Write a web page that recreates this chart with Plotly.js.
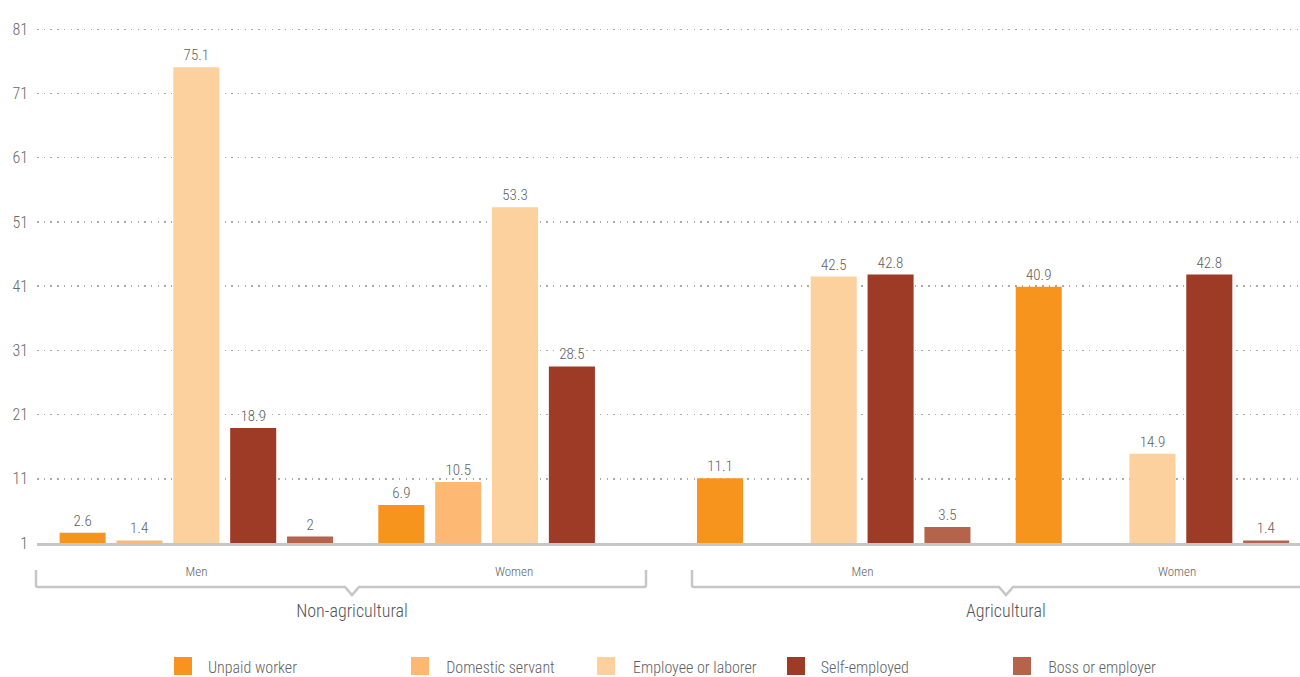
<!DOCTYPE html>
<html>
<head>
<meta charset="utf-8">
<script src="https://cdn.plot.ly/plotly-3.0.1.min.js"></script>
<style>
html,body{margin:0;padding:0;background:#fff;}
#chart{width:1300px;height:677px;}
#chart svg text{font-stretch:75% !important;}
</style>
</head>
<body>
<div id="chart"></div>
<script>
// ---- data ----
var sectors = ["Non-agricultural", "Non-agricultural", "Agricultural", "Agricultural"];
var sexes = ["Men", "Women", "Men", "Women"];
var seriesNames = ["Unpaid worker", "Domestic servant", "Employee or laborer", "Self-employed", "Boss or employer"];
var unpaidWorker = [2.6, 6.9, 11.1, 40.9];
var domesticServant = [1.4, 10.5, null, null];
var employeeLaborer = [75.1, 53.3, 42.5, 14.9];
var selfEmployed = [18.9, 28.5, 42.8, 42.8];
var bossEmployer = [2, null, 3.5, 1.4];
var yTicks = [1, 11, 21, 31, 41, 51, 61, 71, 81];
var colors = ["#F7941E", "#FDB974", "#FDD19E", "#9E3B26", "#B5634B"];

var FONT = "Roboto, sans-serif";
var WEIGHT = 300;

// ---- geometry helpers (pixel -> paper) ----
var W = 1300, H = 677, ML = 37, MR = 0, MT = 28, MB = 134;
var PW = W - ML - MR, PH = H - MT - MB;
function px(x){ return (x - ML) / PW; }
function py(y){ return (H - MB - y) / PH; }

var xIdx = sexes.map(function(_, i){ return i; });
var seriesValues = [unpaidWorker, domesticServant, employeeLaborer, selfEmployed, bossEmployer];

var traces = seriesValues.map(function(vals, k){
  return {
    type: "bar",
    name: seriesNames[k],
    x: xIdx,
    y: vals,
    marker: {color: colors[k]},
    texttemplate: "%{y}",
    textposition: "outside",
    textfont: {family: FONT, size: 15, color: "#5f5f5f", weight: WEIGHT},
    cliponaxis: false,
    hoverinfo: "skip",
    showlegend: false
  };
});

// braces
function brace(x0, x1, xn, yTop, yH, yN){
  var r = 2, hw = 7;
  return "M " + px(x0) + "," + py(yTop) +
    " L " + px(x0) + "," + py(yH - r) +
    " Q " + px(x0) + "," + py(yH) + " " + px(x0 + r) + "," + py(yH) +
    " L " + px(xn - hw) + "," + py(yH) +
    " L " + px(xn) + "," + py(yN) +
    " L " + px(xn + hw) + "," + py(yH) +
    " L " + px(x1 - r) + "," + py(yH) +
    " Q " + px(x1) + "," + py(yH) + " " + px(x1) + "," + py(yH - r) +
    " L " + px(x1) + "," + py(yTop);
}
var shapes = [
  {type: "path", xref: "paper", yref: "paper", path: brace(36, 646, 352, 570, 587, 595), line: {color: "#c6c6c6", width: 2.5}},
  {type: "path", xref: "paper", yref: "paper", path: brace(692, 1322, 1006, 570, 587, 595), line: {color: "#c6c6c6", width: 2.5}}
];

var annotations = [];
var sexLabelX = [196, 514, 862, 1177];
sexes.forEach(function(s, i){
  annotations.push({xref: "paper", yref: "paper", x: px(sexLabelX[i]), y: py(571), text: s, showarrow: false,
    xanchor: "center", yanchor: "middle", font: {family: FONT, size: 13, color: "#5f5f5f", weight: WEIGHT}});
});
var sectorLabelX = {"Non-agricultural": 352, "Agricultural": 1006};
["Non-agricultural", "Agricultural"].forEach(function(s){
  annotations.push({xref: "paper", yref: "paper", x: px(sectorLabelX[s]), y: py(610), text: s, showarrow: false,
    xanchor: "center", yanchor: "middle", font: {family: FONT, size: 18, color: "#555", weight: WEIGHT}});
});

// manual legend
var legSqX = [174, 411, 597, 787, 1013];
seriesNames.forEach(function(n, k){
  shapes.push({type: "rect", xref: "paper", yref: "paper", x0: px(legSqX[k]), x1: px(legSqX[k] + 18),
    y0: py(675), y1: py(657), fillcolor: colors[k], line: {width: 0}});
  annotations.push({xref: "paper", yref: "paper", x: px(legSqX[k] + 26), y: py(667), text: n, showarrow: false,
    xanchor: "left", yanchor: "middle", font: {family: FONT, size: 16, color: "#5f5f5f", weight: WEIGHT}});
});

var layout = {
  width: W, height: H,
  margin: {l: ML, r: MR, t: MT, b: MB, pad: 0},
  paper_bgcolor: "#fff", plot_bgcolor: "#fff",
  barmode: "group",
  bargap: 0.108,
  bargroupgap: 0.19,
  showlegend: false,
  font: {family: FONT, color: "#666", weight: WEIGHT},
  xaxis: {
    type: "linear", range: [-0.5, 3.463],
    showgrid: false, zeroline: false, showticklabels: false, ticks: "",
    showline: true, linecolor: "#c6c6c6", linewidth: 3
  },
  yaxis: {
    range: [1, 81.2], tickvals: yTicks, ticktext: yTicks.map(String),
    showgrid: true, gridcolor: "#aaaaaa", gridwidth: 1.5, griddash: "1.5px,5.2px",
    zeroline: false, showline: false, ticks: "", ticklabelstandoff: 8,
    tickfont: {family: FONT, size: 16, color: "#6a6a6a", weight: WEIGHT}
  },
  shapes: shapes,
  annotations: annotations
};

Plotly.newPlot("chart", traces, layout, {displayModeBar: false, staticPlot: true});
</script>
</body>
</html>
